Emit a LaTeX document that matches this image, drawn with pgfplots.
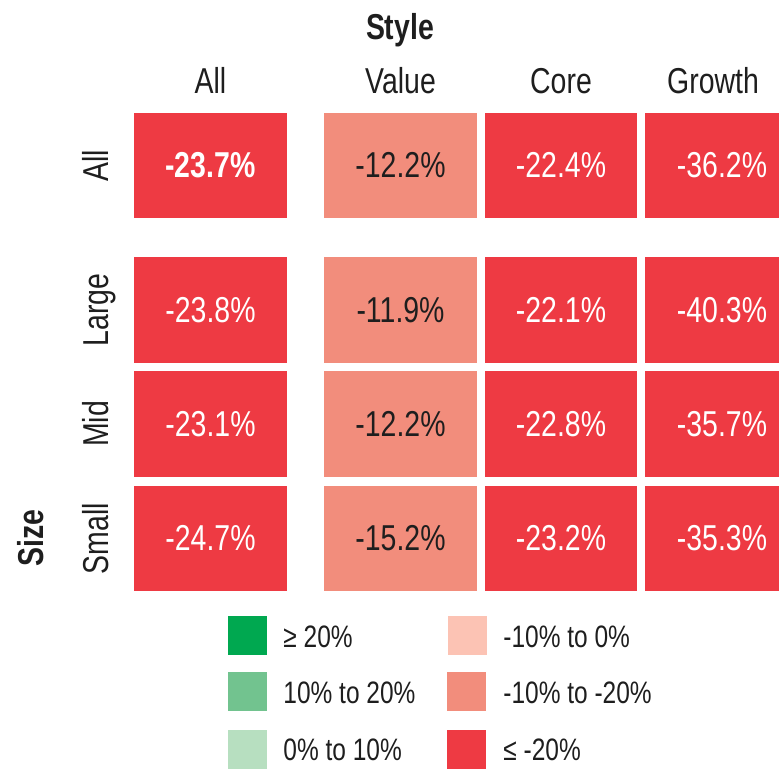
\documentclass[border=0pt]{standalone}
\usepackage{fontspec}
\setmainfont[FakeStretch=0.79]{Liberation Sans}
\usepackage{pgfplots}
\pgfplotsset{compat=1.18}
\definecolor{dred}{RGB}{238,58,67}
\definecolor{salmon}{RGB}{242,141,124}
\definecolor{lpink}{RGB}{252,195,180}
\definecolor{dgreen}{RGB}{0,168,80}
\definecolor{mgreen}{RGB}{114,195,143}
\definecolor{lgreen}{RGB}{183,223,192}
\definecolor{txt}{RGB}{30,30,30}
\newcommand{\vfont}{\fontsize{18}{20}\selectfont}
\newcommand{\lfont}{\fontsize{15.5}{17}\selectfont}
\begin{document}
\begin{tikzpicture}
\begin{axis}[
  width=389.5pt, height=384pt, scale only axis,
  xmin=0, xmax=779, ymin=0, ymax=768, y dir=reverse,
  hide axis, clip=true,
]
% ---- cells (pixel units: x from column bounds, y from row bounds)
% Row All
\addplot[fill=dred, draw=none] coordinates {(134,113) (287,113) (287,218) (134,218)} --cycle;
\addplot[fill=salmon, draw=none] coordinates {(324,113) (477,113) (477,218) (324,218)} --cycle;
\addplot[fill=dred, draw=none] coordinates {(485,113) (637,113) (637,218) (485,218)} --cycle;
\addplot[fill=dred, draw=none] coordinates {(645,113) (798,113) (798,218) (645,218)} --cycle;
% Row Large
\addplot[fill=dred, draw=none] coordinates {(134,257) (287,257) (287,363) (134,363)} --cycle;
\addplot[fill=salmon, draw=none] coordinates {(324,257) (477,257) (477,363) (324,363)} --cycle;
\addplot[fill=dred, draw=none] coordinates {(485,257) (637,257) (637,363) (485,363)} --cycle;
\addplot[fill=dred, draw=none] coordinates {(645,257) (798,257) (798,363) (645,363)} --cycle;
% Row Mid
\addplot[fill=dred, draw=none] coordinates {(134,371) (287,371) (287,477) (134,477)} --cycle;
\addplot[fill=salmon, draw=none] coordinates {(324,371) (477,371) (477,477) (324,477)} --cycle;
\addplot[fill=dred, draw=none] coordinates {(485,371) (637,371) (637,477) (485,477)} --cycle;
\addplot[fill=dred, draw=none] coordinates {(645,371) (798,371) (798,477) (645,477)} --cycle;
% Row Small
\addplot[fill=dred, draw=none] coordinates {(134,486) (287,486) (287,591) (134,591)} --cycle;
\addplot[fill=salmon, draw=none] coordinates {(324,486) (477,486) (477,591) (324,591)} --cycle;
\addplot[fill=dred, draw=none] coordinates {(485,486) (637,486) (637,591) (485,591)} --cycle;
\addplot[fill=dred, draw=none] coordinates {(645,486) (798,486) (798,591) (645,591)} --cycle;
% ---- legend swatches
\addplot[fill=dgreen, draw=none] coordinates {(228,616) (267,616) (267,655) (228,655)} --cycle;
\addplot[fill=mgreen, draw=none] coordinates {(228,672) (267,672) (267,711) (228,711)} --cycle;
\addplot[fill=lgreen, draw=none] coordinates {(228,730) (267,730) (267,769) (228,769)} --cycle;
\addplot[fill=lpink, draw=none] coordinates {(448,616) (487,616) (487,655) (448,655)} --cycle;
\addplot[fill=salmon, draw=none] coordinates {(447,672) (486,672) (486,711) (447,711)} --cycle;
\addplot[fill=dred, draw=none] coordinates {(447,730) (486,730) (486,769) (447,769)} --cycle;
% ---- legend texts
\begin{scope}[every node/.style={font=\lfont, text=txt, anchor=base west, inner sep=0pt}]
\node at (axis cs:283,647) {≥ 20\%};
\node at (axis cs:283,703) {10\% to 20\%};
\node at (axis cs:283,760) {0\% to 10\%};
\node at (axis cs:503,647) {-10\% to 0\%};
\node at (axis cs:503,703) {-10\% to -20\%};
\node at (axis cs:503,760) {≤ -20\%};
\end{scope}
% ---- values
\begin{scope}[every node/.style={font=\vfont, anchor=center}]
\node[text=white] at (axis cs:210.5,165.5) {\bfseries -23.7\%};
\node[text=txt] at (axis cs:400.5,165.5) {-12.2\%};
\node[text=white] at (axis cs:561,165.5) {-22.4\%};
\node[text=white] at (axis cs:722,165.5) {-36.2\%};
\node[text=white] at (axis cs:210.5,310) {-23.8\%};
\node[text=txt] at (axis cs:400.5,310) {-11.9\%};
\node[text=white] at (axis cs:561,310) {-22.1\%};
\node[text=white] at (axis cs:722,310) {-40.3\%};
\node[text=white] at (axis cs:210.5,424) {-23.1\%};
\node[text=txt] at (axis cs:400.5,424) {-12.2\%};
\node[text=white] at (axis cs:561,424) {-22.8\%};
\node[text=white] at (axis cs:722,424) {-35.7\%};
\node[text=white] at (axis cs:210.5,538.5) {-24.7\%};
\node[text=txt] at (axis cs:400.5,538.5) {-15.2\%};
\node[text=white] at (axis cs:561,538.5) {-23.2\%};
\node[text=white] at (axis cs:722,538.5) {-35.3\%};
\end{scope}
% ---- headers
\begin{scope}[every node/.style={font=\vfont, text=txt, anchor=base, inner sep=0pt}]
\node at (axis cs:400,39) {\bfseries Style};
\node at (axis cs:210.5,93) {All};
\node at (axis cs:400.5,93) {Value};
\node at (axis cs:561,93) {Core};
\node at (axis cs:713,93) {Growth};
\node[rotate=90] at (axis cs:108,165.5) {All};
\node[rotate=90] at (axis cs:108,310) {Large};
\node[rotate=90] at (axis cs:108,424) {Mid};
\node[rotate=90] at (axis cs:108,538.5) {Small};
\node[rotate=90] at (axis cs:43,538) {\bfseries Size};
\end{scope}
\end{axis}
\pgfresetboundingbox
\path[use as bounding box] (current axis.south west) rectangle (current axis.north east);
\end{tikzpicture}
\end{document}
